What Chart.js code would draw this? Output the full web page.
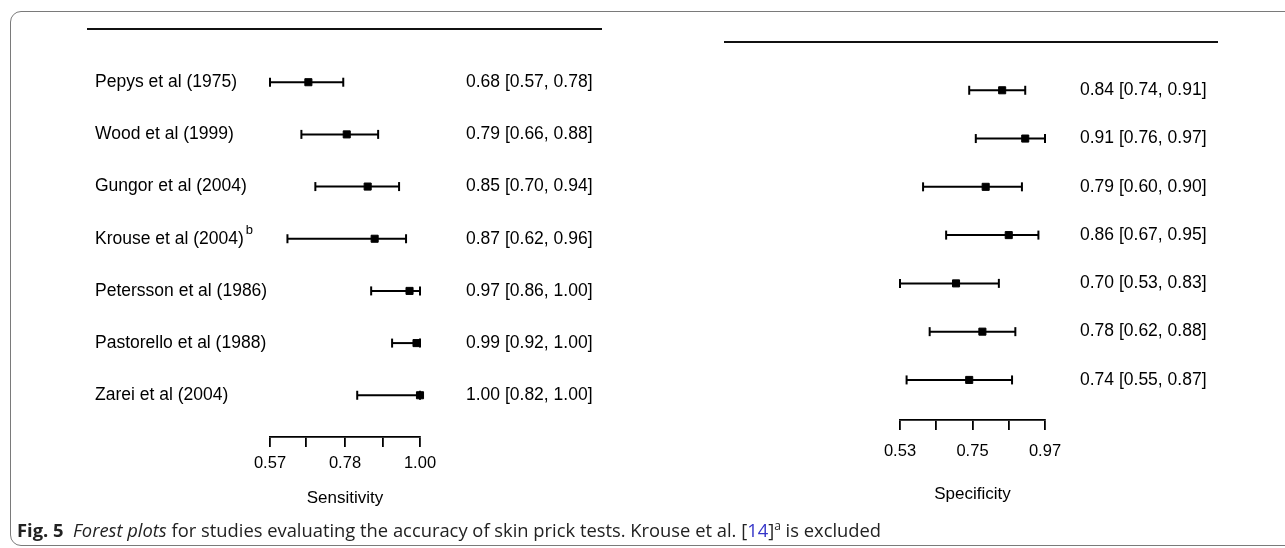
<!DOCTYPE html>
<html>
<head>
<meta charset="utf-8">
<script src="https://cdn.jsdelivr.net/npm/chart.js@4.4.0/dist/chart.umd.min.js"></script>
<style>
  html, body { margin: 0; padding: 0; background: #fff; }
  body { width: 1285px; height: 548px; position: relative; overflow: hidden; }
  #frame { position: absolute; left: 10px; top: 11px; width: 1320px; height: 535px; border: 1.3px solid #7a7a7a; border-radius: 11px; box-sizing: border-box; }
  #left { position: absolute; left: 0; top: 0; width: 660px; height: 548px; }
  #right { position: absolute; left: 660px; top: 0; width: 625px; height: 548px; }
  #caption { position: absolute; left: 17px; top: 517px; font-family: 'Open Sans', sans-serif; font-size: 18.35px; color: #222; white-space: nowrap; }
  #caption .ref { color: #3535c8; }
  #caption sup { font-size: 12px; line-height: 0; }
</style>
</head>
<body>
<div id="frame"></div>
<canvas id="left" width="660" height="548"></canvas>
<canvas id="right" width="625" height="548"></canvas>
<div id="caption"><b>Fig. 5</b>&nbsp; <i>Forest plots</i> for studies evaluating the accuracy of skin prick tests. Krouse et al. [<span class="ref">14</span>]<sup>a</sup> is excluded</div>
<script>
// study rows, top to bottom
const studies = ['Pepys et al (1975)', 'Wood et al (1999)', 'Gungor et al (2004)', 'Krouse et al (2004)',
                 'Petersson et al (1986)', 'Pastorello et al (1988)', 'Zarei et al (2004)'];
const studyNotes = ['', '', '', 'b', '', '', ''];

// sensitivity (left panel)
const sensEst  = [0.68, 0.79, 0.85, 0.87, 0.97, 0.99, 1.00];
const sensLow  = [0.57, 0.66, 0.70, 0.62, 0.86, 0.92, 0.82];
const sensHigh = [0.78, 0.88, 0.94, 0.96, 1.00, 1.00, 1.00];
const sensTicks = [0.57, 0.6725, 0.785, 0.8925, 1.00];
const sensTickLabels = ['0.57', '', '0.78', '', '1.00'];

// specificity (right panel)
const specEst  = [0.84, 0.91, 0.79, 0.86, 0.70, 0.78, 0.74];
const specLow  = [0.74, 0.76, 0.60, 0.67, 0.53, 0.62, 0.55];
const specHigh = [0.91, 0.97, 0.90, 0.95, 0.83, 0.88, 0.87];
const specTicks = [0.53, 0.64, 0.75, 0.86, 0.97];
const specTickLabels = ['0.53', '', '0.75', '', '0.97'];

const FONT = 'Liberation Sans';
const fmt = v => v.toFixed(2);

// draws the top rule, study names and "est [lo, hi]" text next to each row
const rowText = {
    id: 'rowText',
    afterDraw(chart, args, opts) {
        const ctx = chart.ctx;
        const yScale = chart.scales.y;
        ctx.save();
        ctx.strokeStyle = '#111';
        ctx.lineWidth = 2;
        ctx.beginPath();
        ctx.moveTo(opts.ruleFrom, chart.chartArea.top);
        ctx.lineTo(opts.ruleTo, chart.chartArea.top);
        ctx.stroke();

        ctx.fillStyle = '#000';
        ctx.textBaseline = 'middle';
        ctx.textAlign = 'left';
        opts.est.forEach((v, i) => {
            const y = yScale.getPixelForValue(i);
            ctx.font = '17.5px "' + FONT + '"';
            if (opts.labels) {
                ctx.fillText(opts.labels[i], opts.labelX, y);
                if (opts.notes[i]) {
                    const w = ctx.measureText(opts.labels[i]).width;
                    ctx.font = '13px "' + FONT + '"';
                    ctx.fillText(opts.notes[i], opts.labelX + w + 2, y - 8);
                    ctx.font = '17.5px "' + FONT + '"';
                }
            }
            ctx.fillText(fmt(v) + ' [' + fmt(opts.low[i]) + ', ' + fmt(opts.high[i]) + ']', opts.estX, y);
        });
        ctx.restore();
    }
};

function forestChart(canvasId, cfg) {
    const datasets = [];
    // confidence interval whiskers with end caps
    cfg.low.forEach((lo, i) => {
        datasets.push({
            data: [{x: lo, y: i}, {x: cfg.high[i], y: i}],
            showLine: true,
            borderColor: '#000',
            borderWidth: 2,
            pointStyle: 'line',
            pointRotation: 90,
            pointRadius: 4.5,
            pointBorderWidth: 2,
            pointBorderColor: '#000',
            clip: false,
            order: 2
        });
    });
    // point estimates
    datasets.push({
        data: cfg.est.map((v, i) => ({x: v, y: i})),
        pointStyle: 'rect',
        pointRadius: 5,
        pointBorderWidth: 1,
        backgroundColor: '#000',
        borderColor: '#000',
        clip: false,
        order: 1
    });

    return new Chart(document.getElementById(canvasId), {
        type: 'scatter',
        data: { datasets: datasets },
        options: {
            responsive: false,
            animation: false,
            events: [],
            layout: { padding: { left: cfg.padLeft, right: cfg.padRight, top: cfg.padTop, bottom: 0 } },
            plugins: {
                legend: { display: false },
                tooltip: { enabled: false },
                rowText: {
                    labels: cfg.labels, notes: cfg.notes, est: cfg.est, low: cfg.low, high: cfg.high,
                    labelX: 95, estX: cfg.estX, ruleFrom: cfg.ruleFrom, ruleTo: cfg.ruleTo
                }
            },
            scales: {
                x: {
                    type: 'linear',
                    min: cfg.min,
                    max: cfg.max,
                    afterBuildTicks: s => { s.ticks = cfg.ticks.map(v => ({ value: v })); },
                    afterFit: s => { s.height = cfg.axisHeight; },
                    ticks: {
                        autoSkip: false,
                        maxRotation: 0,
                        color: '#000',
                        padding: cfg.tickPad,
                        font: { family: FONT, size: 16.5 },
                        callback: (v, i) => cfg.tickLabels[i]
                    },
                    grid: { drawOnChartArea: false, drawTicks: true, tickLength: 10, color: '#000', lineWidth: 1.8 },
                    border: { display: true, color: '#000', width: 1.8 },
                    title: {
                        display: true,
                        text: cfg.title,
                        color: '#000',
                        font: { family: FONT, size: 17 },
                        padding: { top: 0, bottom: cfg.titlePad }
                    }
                },
                y: { type: 'linear', display: false, reverse: true, min: cfg.yMin, max: cfg.yMax }
            }
        },
        plugins: [rowText]
    });
}

forestChart('left', {
    labels: studies, notes: studyNotes,
    est: sensEst, low: sensLow, high: sensHigh,
    min: 0.57, max: 1.00, ticks: sensTicks, tickLabels: sensTickLabels,
    title: 'Sensitivity',
    padLeft: 270, padRight: 240, padTop: 29, axisHeight: 111,
    yMin: -1.02, yMax: 6.8, tickPad: 7, titlePad: 39,
    estX: 466, ruleFrom: 87, ruleTo: 602
});

forestChart('right', {
    labels: null, notes: null,
    est: specEst, low: specLow, high: specHigh,
    min: 0.53, max: 0.97, ticks: specTicks, tickLabels: specTickLabels,
    title: 'Specificity',
    padLeft: 240, padRight: 240, padTop: 42, axisHeight: 128,
    yMin: -1.0, yMax: 6.83, tickPad: 12, titlePad: 43,
    estX: 420, ruleFrom: 64, ruleTo: 558
});
</script>
</body>
</html>
